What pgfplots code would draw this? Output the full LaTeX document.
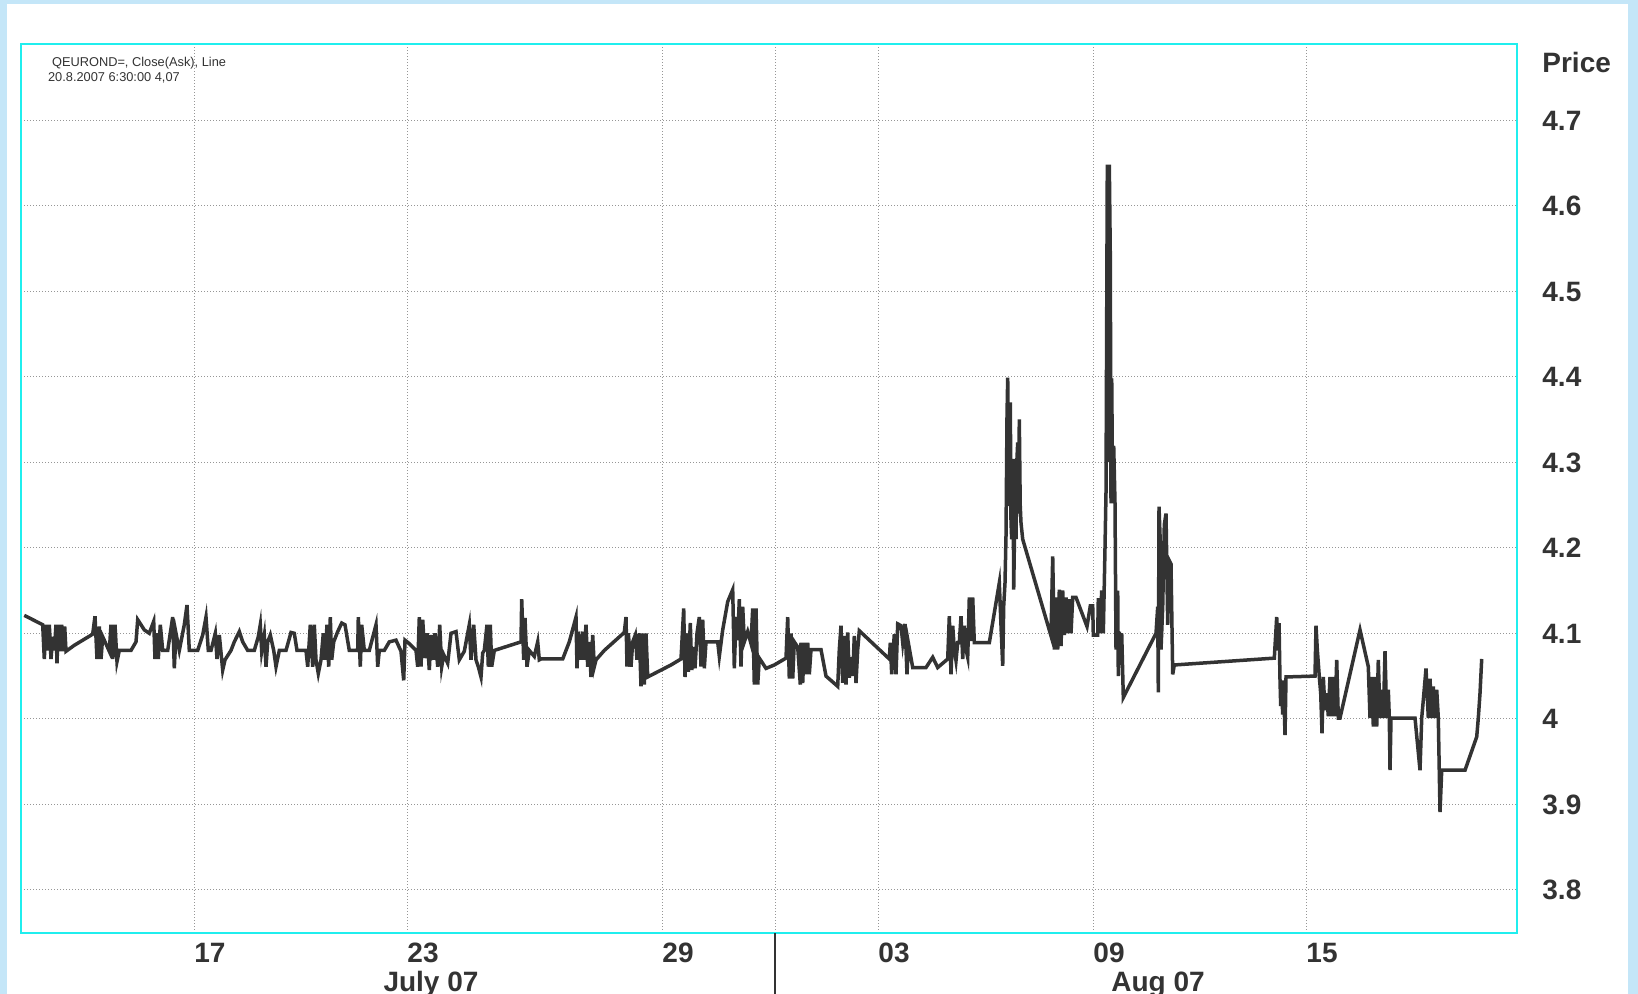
\documentclass[border=0pt]{standalone}
\usepackage{fontspec}
\setmainfont{Liberation Sans}
\usepackage{pgfplots}
\pgfplotsset{compat=1.18}
\definecolor{bgblue}{RGB}{196,230,248}
\definecolor{boxcyan}{RGB}{32,238,238}
\definecolor{txt}{RGB}{51,51,51}
\definecolor{gridgray}{RGB}{150,150,150}
\begin{document}
\begin{tikzpicture}
\useasboundingbox (0,0) rectangle (819pt,497pt);
\fill[bgblue] (0,0) rectangle (819pt,497pt);
\fill[white] (3.5pt,0) rectangle (814pt,495pt);
\begin{axis}[
 scale only axis, width=748pt, height=444.5pt,
 at={(10.5pt,30.5pt)}, anchor=south west,
 xmin=21, xmax=1517, ymin=3.7497, ymax=4.7889,
 axis line style={boxcyan, line width=1pt},
 xtick={194,407,662,775,878,1093,1306},
 xticklabels={17,23,29,,03,09,15},
 ytick={3.8,3.9,4.0,4.1,4.2,4.3,4.4,4.5,4.6,4.7},
 yticklabels={3.8,3.9,4,4.1,4.2,4.3,4.4,4.5,4.6,4.7},
 yticklabel pos=right,
 tick style={draw=none},
 grid=major,
 major grid style={gridgray, line width=0.5pt, dash pattern=on 0.5pt off 1pt},
 xticklabel style={font=\fontsize{14}{16}\selectfont\bfseries, text=txt, anchor=base, inner sep=0pt, xshift=8pt, yshift=-15pt},
 yticklabel style={font=\fontsize{14}{16}\selectfont\bfseries, text=txt, anchor=base west, inner sep=0pt, xshift=12.5pt, yshift=-5pt},
]
\addplot[txt, line width=1.75pt, no markers] coordinates {
(24.3,4.121)(42.7,4.110)(44.3,4.070)(46,4.110)(47.7,4.080)(49.3,4.110)(51,4.070)(52.7,4.096)(54.3,4.080)(56,4.110)(57,4.065)(58.3,4.110)(60.3,4.079)(61.7,4.110)(63.3,4.079)(64.7,4.108)(66,4.079)(74.3,4.086)(92.7,4.099)(95,4.120)(97,4.070)(99.3,4.108)(101,4.070)(102.7,4.096)(109.3,4.079)(111,4.110)(112.7,4.070)(115,4.110)(117,4.067)(119.3,4.080)(131,4.080)(136,4.090)(137.7,4.116)(141,4.110)(144.3,4.104)(149.3,4.100)(153.7,4.114)(155,4.070)(157,4.100)(158.3,4.070)(160.3,4.110)(162.7,4.080)(167.7,4.080)(172.7,4.119)(174.3,4.059)(176,4.100)(179.3,4.080)(184.3,4.110)(187,4.133)(189.3,4.080)(197.7,4.080)(202.7,4.098)(206,4.119)(208.3,4.080)(211,4.080)(215.3,4.100)(217,4.070)(219.3,4.098)(222.7,4.057)(225,4.069)(231,4.080)(234.3,4.090)(239.3,4.102)(242.7,4.090)(247.7,4.080)(254.3,4.080)(258.3,4.096)(260.3,4.110)(261.7,4.079)(264.3,4.098)(266,4.061)(267.7,4.090)(270.3,4.098)(273.7,4.080)(276,4.061)(279.3,4.080)
(281,4.080)(286,4.080)(291,4.101)(294.3,4.100)(297,4.080)(306,4.080)(307.7,4.061)(310.3,4.110)(312.7,4.061)(314.3,4.110)(316,4.069)(318.3,4.053)(321,4.069)(323.3,4.100)(325,4.069)(327,4.110)(328.7,4.061)(330.3,4.119)(331.7,4.069)(333.7,4.090)(337.7,4.102)(341.7,4.112)(345,4.110)(349.3,4.080)(357.7,4.080)(358.3,4.119)(360.3,4.061)(361.7,4.110)(364.3,4.080)(369.3,4.080)(376,4.110)(377.7,4.061)(379.3,4.080)(384.3,4.080)(389.3,4.090)(396,4.092)(401,4.079)(403.7,4.045)(405,4.092)(409.3,4.088)(416,4.080)(417.7,4.061)(419.3,4.119)(421,4.061)(422.7,4.116)(425,4.071)(427,4.100)(429.3,4.057)(431,4.098)(433.7,4.069)(435,4.100)(437.7,4.061)(439.7,4.110)(441.7,4.061)(443.7,4.075)(447.7,4.065)(451,4.100)(456,4.102)(459.3,4.069)(464.3,4.079)(469.3,4.110)(471,4.069)(473.7,4.110)(476,4.069)(478.3,4.061)(481,4.049)(482.7,4.077)(484.3,4.080)(487,4.110)(488.3,4.061)(490.3,4.110)(491.7,4.061)(494.3,4.080)(521,4.090)(521.7,4.140)(523.7,4.069)(525,4.118)(527,4.061)(529.3,4.080)(534.3,4.073)(537.7,4.090)(539.3,4.069)
(541,4.070)(562.7,4.070)(569.3,4.090)(576,4.119)(577,4.059)(578.3,4.102)(580.3,4.069)(582.7,4.102)(583.7,4.069)(586,4.110)(587.7,4.061)(589.3,4.090)(591,4.049)(592.7,4.098)(594.3,4.061)(596,4.069)(604.3,4.080)(624.3,4.101)(626,4.119)(627,4.061)(628.3,4.100)(631,4.061)(632.7,4.090)(635.3,4.098)(637,4.069)(639.3,4.100)(641,4.038)(642.7,4.100)(644.3,4.040)(646,4.100)(647.7,4.049)(651,4.051)(661,4.057)(671,4.063)(681,4.070)(683.7,4.129)(685,4.049)(687,4.100)(688.3,4.055)(690.3,4.112)(691.7,4.057)(693.7,4.084)(695,4.059)(697,4.100)(699.3,4.119)(701,4.061)(702.7,4.116)(704.3,4.059)(706,4.090)(717.7,4.090)(719.3,4.073)(722.7,4.104)(727.7,4.137)(732.7,4.151)(734.3,4.059)(736,4.119)(737.7,4.092)(739.3,4.140)(741,4.061)(742.7,4.131)(744.3,4.090)(747.7,4.102)(751,4.088)(752.7,4.129)(754.3,4.040)(756,4.129)(757.7,4.040)(759.3,4.071)(766,4.059)(774.3,4.063)(786,4.071)(787.7,4.119)(789.3,4.047)(791,4.100)(792.7,4.047)(794.3,4.090)(797.7,4.084)(800.3,4.040)
(801,4.089)(802.7,4.042)(804.3,4.089)(806,4.052)(807.7,4.089)(809.3,4.052)(811,4.081)(821,4.081)(826,4.050)(837.7,4.038)(839.3,4.081)(841,4.109)(842.7,4.042)(844.3,4.097)(846,4.040)(847.7,4.101)(849.3,4.048)(851,4.072)(852.7,4.050)(854.3,4.097)(856,4.042)(857.7,4.081)(859.3,4.103)(889.3,4.070)(890.3,4.089)(891.7,4.052)(894.3,4.099)(896,4.052)(897.7,4.111)(901,4.109)(902.7,4.089)(905,4.111)(907,4.052)(908.3,4.089)(912.7,4.060)(926,4.060)(932.7,4.072)(937.7,4.060)(947.7,4.070)(949.3,4.120)(951,4.052)(952.7,4.109)(954.3,4.081)(956,4.068)(957.7,4.089)(959.3,4.089)(961,4.120)(962.7,4.070)(964.3,4.109)(966,4.081)(967.7,4.072)(969.3,4.142)(971,4.091)(972.7,4.142)(974.3,4.089)(989.3,4.089)(999.3,4.159)(1001,4.109)(1002.7,4.062)(1003.7,4.132)(1005,4.159)(1006,4.214)(1007,4.354)(1007.7,4.399)(1008.5,4.300)(1009.3,4.249)(1010.3,4.370)(1011,4.230)(1011.7,4.210)(1012.3,4.280)(1013,4.304)(1013.7,4.151)(1015,4.257)(1016,4.210)(1016.8,4.300)(1017.7,4.323)(1018.5,4.240)(1019.3,4.350)(1020.2,4.250)(1021,4.229)(1022.7,4.210)(1051,4.097)(1052.7,4.190)(1054.3,4.081)(1056,4.142)(1057.7,4.081)(1059.3,4.151)(1061,4.085)
(1062.7,4.150)(1064.3,4.098)(1066,4.142)(1067.7,4.100)(1069.3,4.140)(1071,4.100)(1072.7,4.142)(1076,4.142)(1087,4.108)(1090.3,4.132)(1092.7,4.132)(1093.3,4.098)(1097.7,4.098)(1098.3,4.141)(1100,4.100)(1101.7,4.150)(1103.3,4.100)(1105,4.200)(1106,4.265)(1107.3,4.648)(1108.3,4.300)(1109.3,4.648)(1110.3,4.540)(1111,4.252)(1111.7,4.398)(1112.7,4.252)(1113.7,4.319)(1115,4.252)(1116,4.081)(1117.7,4.150)(1118.3,4.050)(1119.3,4.102)(1120.3,4.081)(1121.7,4.100)(1123.3,4.025)(1156,4.100)(1157.7,4.131)(1158.3,4.031)(1159,4.248)(1160,4.215)(1161,4.081)(1162.7,4.131)(1164.3,4.227)(1166,4.240)(1167.7,4.110)(1169.3,4.185)(1171,4.181)(1172.7,4.052)(1174.3,4.063)(1274.3,4.071)
(1276.7,4.119)(1277.7,4.080)(1279,4.112)(1280,4.045)(1280.7,4.015)(1281.7,4.035)(1282.7,4.005)(1283.3,4.045)(1284.3,4.010)(1285,3.981)(1286,4.049)(1315,4.050)(1316,4.109)(1317.3,4.081)(1319.3,4.049)(1320.7,4.030)(1322,3.983)(1323.3,4.049)(1325,4.010)(1326.7,4.030)(1328.3,4.003)(1330,4.049)(1331.7,4.003)(1333.3,4.049)(1335,4.003)(1336.7,4.069)(1338.3,4.001)(1340,4.001)(1360,4.104)(1368.3,4.061)(1370,4.001)(1371.7,4.049)(1373.3,3.991)(1375,4.049)(1376.7,3.991)(1378.3,4.069)(1380,4.001)(1381.7,4.034)(1383.3,4.001)(1385,4.079)(1386.7,4.001)(1388.3,4.034)(1389.3,4.001)(1390,3.940)(1391,4.001)(1415,4.001)(1420,3.940)(1421.7,4.001)(1423.3,4.022)(1426,4.059)(1428.3,4.001)(1430,4.047)(1431.7,4.001)(1433.3,4.038)(1435,4.001)(1436.7,4.034)(1438.3,4.001)(1440,3.891)(1441.7,3.940)(1443.3,3.940)(1465,3.940)(1476.7,3.979)(1478.3,4.001)(1480,4.030)(1481.7,4.070)
};
\end{axis}
\draw[txt, line width=0.6pt] (387.5pt,0) -- (387.5pt,30.5pt);
\node[anchor=base, inner sep=0pt, font=\fontsize{14}{16}\selectfont\bfseries, text=txt] at (215.5pt,1pt) {July 07};
\node[anchor=base, inner sep=0pt, font=\fontsize{14}{16}\selectfont\bfseries, text=txt] at (579pt,1pt) {Aug 07};
\node[anchor=base west, inner sep=0pt, font=\fontsize{14}{16}\selectfont\bfseries, text=txt] at (771pt,460.5pt) {Price};
\node[anchor=base west, inner sep=0pt, font=\fontsize{6.4}{7}\selectfont, text=txt] at (25.85pt,463.65pt) {QEUROND=, Close(Ask), Line};
\node[anchor=base west, inner sep=0pt, font=\fontsize{6.4}{7}\selectfont, text=txt] at (23.85pt,456pt) {20.8.2007 6:30:00 4,07};
\end{tikzpicture}
\end{document}
